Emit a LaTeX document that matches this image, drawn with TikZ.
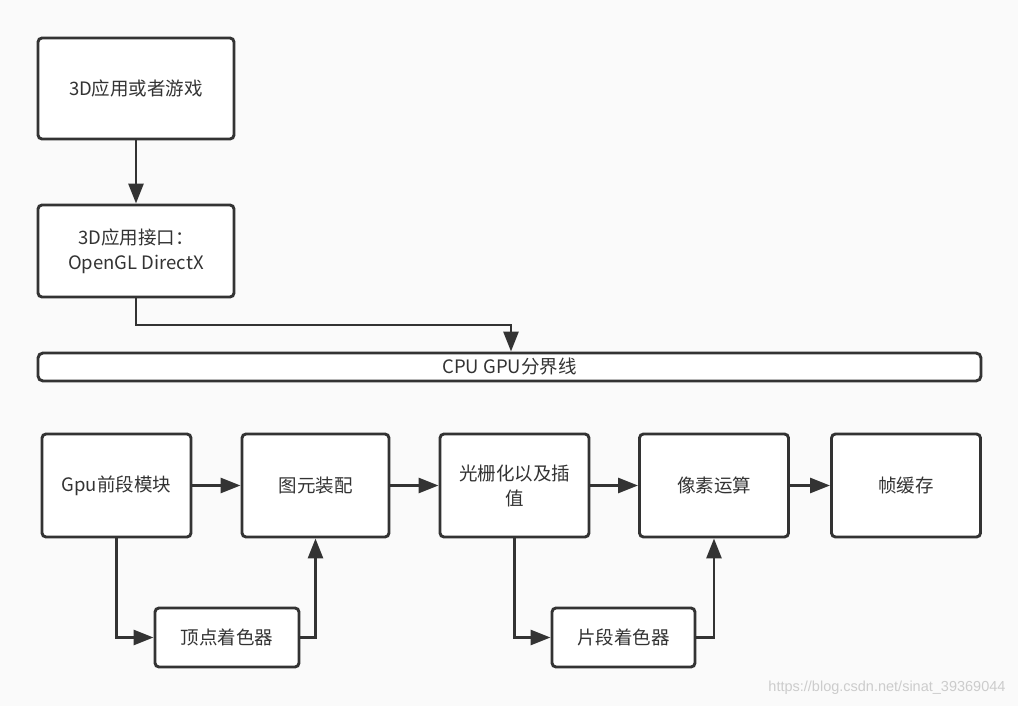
\documentclass[tikz,border=0pt]{standalone}
\usepackage{fontspec}
\setmainfont{Noto Sans CJK SC}
\newfontfamily\markfont{Liberation Sans}
\usetikzlibrary{arrows.meta}
\definecolor{ink}{HTML}{333333}
\definecolor{paper}{HTML}{FAFAFA}
\tikzset{
  stage/.style={draw=ink,fill=white,line width=2.9pt,rounded corners=4pt,
    text=ink,align=center,inner sep=0pt,font=\fontsize{18.5}{25}\selectfont},
  flow/.style={draw=ink,line width=2.9pt,-{Triangle[length=20pt,width=15pt]}},
}
\begin{document}
\begin{tikzpicture}[x=1pt,y=-1pt]
  \fill[paper] (0,0) rectangle (1018,706);
  \useasboundingbox (0,0) rectangle (1018,706);

  % CPU side
  \node[stage,minimum width=196pt,minimum height=101pt] (app) at (136,88.5) {3D应用或者游戏};
  \node[stage,minimum width=196pt,minimum height=92pt] (api) at (136,251) {3D应用接口：\\ OpenGL DirectX};
  \node[stage,minimum width=943pt,minimum height=28pt,rounded corners=5pt] (border) at (509.5,367) {CPU GPU分界线};

  % GPU pipeline
  \node[stage,minimum width=149pt,minimum height=103pt] (front) at (116.5,485.5) {Gpu前段模块};
  \node[stage,minimum width=147pt,minimum height=103pt] (prim) at (315.5,485.5) {图元装配};
  \node[stage,minimum width=149pt,minimum height=103pt] (rast) at (514.5,485.5) {光栅化以及插\\值};
  \node[stage,minimum width=149pt,minimum height=103pt] (pixel) at (714,485.5) {像素运算};
  \node[stage,minimum width=149pt,minimum height=103pt] (fb) at (906,485.5) {帧缓存};
  \node[stage,minimum width=144pt,minimum height=59pt] (vs) at (227,637.5) {顶点着色器};
  \node[stage,minimum width=143pt,minimum height=59pt] (fs) at (623.5,637.5) {片段着色器};

  \node[anchor=east,text=black!20,font=\markfont\fontsize{14.5}{16}\selectfont] (mark) at (1009,688) {https://blog.csdn.net/sinat\_39369044};

  \draw[flow] (app) -- (api);
  \coordinate (bend) at (511,325);
  \draw[flow] (api.south) |- (bend) -- (bend |- border.north);

  \draw[flow] (front) -- (prim);
  \draw[flow] (prim) -- (rast);
  \draw[flow] (rast) -- (pixel);
  \draw[flow] (pixel) -- (fb);

  \draw[flow] (front.south) |- (vs.west);
  \draw[flow] (vs.east) -| (prim.south);
  \draw[flow] (rast.south) |- (fs.west);
  \draw[flow] (fs.east) -| (pixel.south);
\end{tikzpicture}
\end{document}
